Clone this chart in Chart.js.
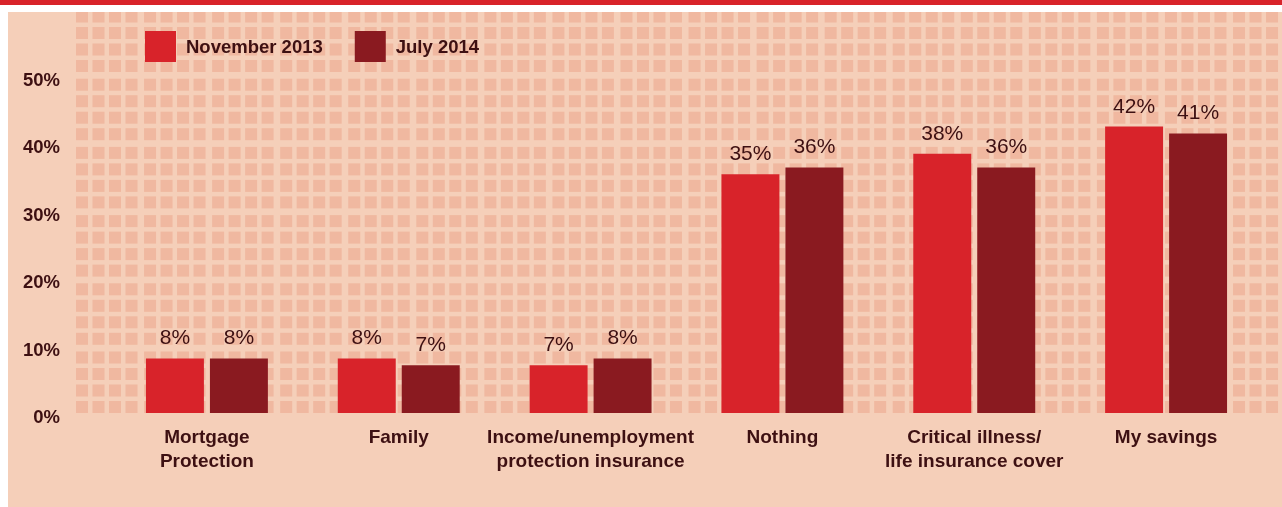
<!DOCTYPE html>
<html>
<head>
<meta charset="utf-8">
<script src="https://cdn.jsdelivr.net/npm/chart.js@4.4.1/dist/chart.umd.min.js"></script>
<style>
  html, body { margin: 0; padding: 0; background: #fff; }
  #wrap { width: 1282px; height: 507px; position: relative; }
</style>
</head>
<body>
<div id="wrap"><canvas id="cover"></canvas></div>
<script>
// what people say would cover them - survey data
const categories = [
    ['Mortgage', 'Protection'],
    'Family',
    ['Income/unemployment', 'protection insurance'],
    'Nothing',
    ['Critical illness/', 'life insurance cover'],
    'My savings'
];
const nov2013 = [8, 8, 7, 35, 38, 42];
const jul2014 = [8, 7, 8, 36, 36, 41];
const seriesNames = ['November 2013', 'July 2014'];
const yTicks = [0, 10, 20, 30, 40, 50];

const RED = '#d8232a';
const DARK = '#8a1a20';
const PEACH = '#f5cfb9';
const TILE = '#f0b8a0';
const INK = '#3d1012';
const FONT = '"Liberation Sans", Arial, sans-serif';

// page frame + tiled backdrop behind the plot
const backdrop = {
    id: 'backdrop',
    beforeDraw(chart) {
        const ctx = chart.ctx;
        const w = chart.width, h = chart.height;
        ctx.save();
        ctx.fillStyle = '#fff';
        ctx.fillRect(0, 0, w, h);
        ctx.fillStyle = RED;
        ctx.fillRect(0, 0, w, 5);
        ctx.fillStyle = PEACH;
        ctx.fillRect(8, 12, w - 8, h - 12);

        const y = chart.scales.y;
        const base = y.getPixelForValue(0);
        const grp = base - y.getPixelForValue(10);
        ctx.beginPath();
        ctx.rect(76, 12, w - 76, base - 12);
        ctx.clip();
        ctx.fillStyle = TILE;
        for (let gy = base; gy > 0; gy -= grp) {
            for (let r = 0; r < 4; r++) {
                const ty = gy - 61.5 + r * 16.5;
                for (let gx = 76; gx < w; gx += 68.06) {
                    for (let c = 0; c < 4; c++) {
                        ctx.fillRect(gx + c * 16.5, ty, 12, 12);
                    }
                }
            }
        }
        ctx.restore();
    }
};

// value labels over each bar
const valueLabels = {
    id: 'valueLabels',
    afterDatasetsDraw(chart) {
        const ctx = chart.ctx;
        ctx.save();
        ctx.font = '21px ' + FONT;
        ctx.fillStyle = INK;
        ctx.textAlign = 'center';
        ctx.textBaseline = 'alphabetic';
        chart.data.datasets.forEach((ds, i) => {
            chart.getDatasetMeta(i).data.forEach((bar, j) => {
                ctx.fillText(ds.data[j] + '%', bar.x, bar.y - 14);
            });
        });
        ctx.restore();
    }
};

// legend boxes in the top-left of the plot
const boxLegend = {
    id: 'boxLegend',
    afterDraw(chart) {
        const ctx = chart.ctx;
        ctx.save();
        ctx.font = 'bold 18.5px ' + FONT;
        ctx.textBaseline = 'middle';
        ctx.textAlign = 'left';
        let x = 145;
        chart.data.datasets.forEach(ds => {
            ctx.fillStyle = ds.backgroundColor;
            ctx.fillRect(x, 31, 31, 31);
            ctx.fillStyle = INK;
            ctx.fillText(ds.label, x + 41, 47.5);
            x += 41 + ctx.measureText(ds.label).width + 32;
        });
        ctx.restore();
    }
};

new Chart(document.getElementById('cover'), {
    type: 'bar',
    data: {
        labels: categories,
        datasets: [
            { label: seriesNames[0], data: nov2013, backgroundColor: RED },
            { label: seriesNames[1], data: jul2014, backgroundColor: DARK }
        ]
    },
    options: {
        responsive: true,
        maintainAspectRatio: false,
        animation: false,
        layout: { padding: { top: 17.44, right: 20, left: 0, bottom: 0 } },
        datasets: { bar: { categoryPercentage: 0.667, barPercentage: 0.906 } },
        plugins: { legend: { display: false }, tooltip: { enabled: false } },
        scales: {
            x: {
                grid: { display: false },
                border: { display: false },
                ticks: {
                    color: INK,
                    font: { family: FONT, size: 19, weight: 'bold', lineHeight: 1.24 },
                    padding: 5,
                    maxRotation: 0,
                    autoSkip: false
                },
                afterFit(scale) {
                    scale.height = 94;
                    scale.paddingLeft = scale.paddingRight = 0;
                }
            },
            y: {
                display: false,
                min: 0,
                max: 58
            },
            // tick labels sit a little below the bar scale
            yLab: {
                position: 'left',
                min: 0.742,
                max: 59.43,
                grid: { display: false, drawTicks: false },
                border: { display: false },
                afterBuildTicks(axis) { axis.ticks = yTicks.map(v => ({ value: v })); },
                ticks: {
                    color: INK,
                    font: { family: FONT, size: 18.5, weight: 'bold' },
                    padding: 51,
                    callback: v => v + '%'
                },
                afterFit(scale) {
                    scale.width = 111;
                    scale.paddingTop = scale.paddingBottom = 0;
                }
            }
        }
    },
    plugins: [backdrop, valueLabels, boxLegend]
});
</script>
</body>
</html>
